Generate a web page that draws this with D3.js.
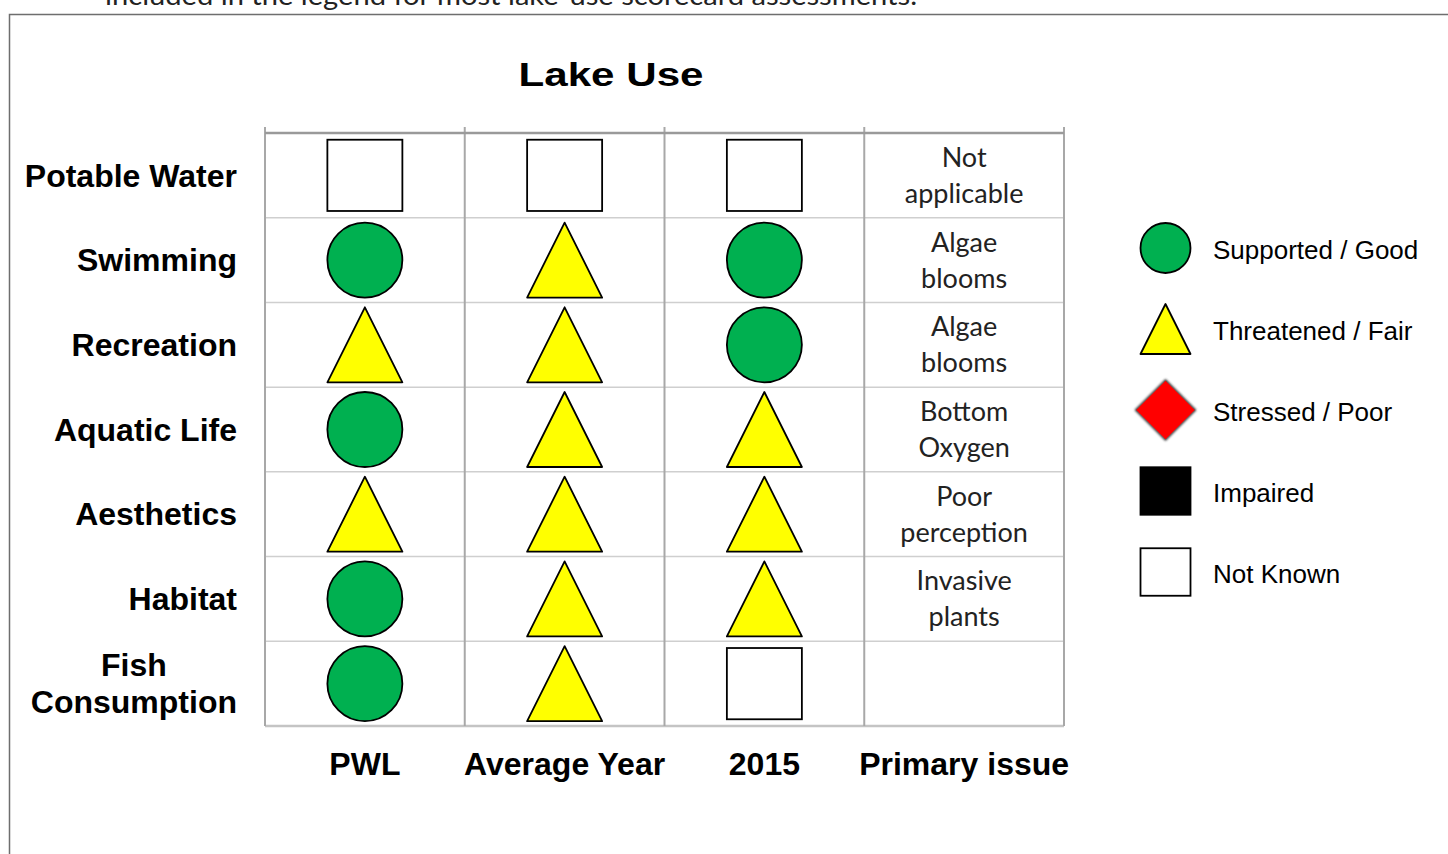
<!DOCTYPE html>
<html>
<head>
<meta charset="utf-8">
<script src="https://cdn.jsdelivr.net/npm/d3@7"></script>
<style>
  body { margin: 0; background: #fff; }
  svg { display: block; }
</style>
</head>
<body>
<svg id="chart"></svg>
<script>
// data begin ----------------------------------
const useNames = ['Potable Water', 'Swimming', 'Recreation', 'Aquatic Life', 'Aesthetics', 'Habitat', 'Fish Consumption'];
const columnNames = ['PWL', 'Average Year', '2015', 'Primary issue'];
const pwlStatus = ['unknown', 'good', 'fair', 'good', 'fair', 'good', 'good'];
const averageYearStatus = ['unknown', 'fair', 'fair', 'fair', 'fair', 'fair', 'fair'];
const year2015Status = ['unknown', 'good', 'good', 'fair', 'fair', 'fair', 'unknown'];
const primaryIssues = ['Not applicable', 'Algae blooms', 'Algae blooms', 'Bottom Oxygen', 'Poor perception', 'Invasive plants', ''];
const legendKeys = ['good', 'fair', 'poor', 'impaired', 'unknown'];
const legendLabels = ['Supported / Good', 'Threatened / Fair', 'Stressed / Poor', 'Impaired', 'Not Known'];
// data end ------------------------------------

const W = 1448, H = 854;
const svg = d3.select('#chart').attr('width', W).attr('height', H);

const defs = svg.append('defs');
defs.append('filter').attr('id', 'blur').attr('x', '-20%').attr('y', '-20%').attr('width', '140%').attr('height', '140%')
  .append('feGaussianBlur').attr('stdDeviation', 0.8);

// page fragment above the chart (cut off by the page edge)
svg.append('text').attr('x', 105).attr('y', 5)
  .attr('textLength', 812).attr('lengthAdjust', 'spacingAndGlyphs')
  .style('font-family', 'Lato, sans-serif').style('font-size', '26px').style('fill', '#222')
  .text('included in the legend for most lake-use scorecard assessments.');

// outer frame
svg.append('path').attr('d', 'M9.5,' + H + 'V14.5H' + W)
  .attr('fill', 'none').attr('stroke', '#6e6e6e').attr('stroke-width', 1.5);

const labelFont = 'Liberation Sans, Arial, sans-serif';

svg.append('text').attr('x', 611).attr('y', 74).attr('dy', '.35em')
  .attr('textLength', 185).attr('lengthAdjust', 'spacingAndGlyphs')
  .style('text-anchor', 'middle').style('font-family', labelFont)
  .style('font-weight', 'bold').style('font-size', '33px').text('Lake Use');

const x = d3.scaleBand().domain(columnNames).range([265, 1064]);
const y = d3.scaleBand().domain(useNames).range([133, 726]);

const colors = { good: '#00b050', fair: '#ffff00', poor: '#ff0000', impaired: '#000000', unknown: '#ffffff' };

function drawSymbol(g, kind, cx, cy, s) {
  const h = s / 2;
  if (kind === 'good') {
    g.append('circle').attr('cx', cx).attr('cy', cy).attr('r', h)
      .attr('fill', colors.good).attr('stroke', '#000').attr('stroke-width', 1.8);
  } else if (kind === 'fair') {
    g.append('path').attr('d', 'M' + (cx - h) + ',' + (cy + h) + 'L' + cx + ',' + (cy - h) + 'L' + (cx + h) + ',' + (cy + h) + 'Z')
      .attr('fill', colors.fair).attr('stroke', '#000').attr('stroke-width', 1.8).attr('stroke-linejoin', 'round');
  } else if (kind === 'poor') {
    const d = h * 1.17;
    const p = 'M' + cx + ',' + (cy - d) + 'L' + (cx + d) + ',' + cy + 'L' + cx + ',' + (cy + d) + 'L' + (cx - d) + ',' + cy + 'Z';
    g.append('path').attr('d', p).attr('fill', 'none').attr('stroke', '#333').attr('stroke-width', 2.5).attr('filter', 'url(#blur)');
    g.append('path').attr('d', p).attr('fill', colors.poor);
  } else {
    g.append('rect').attr('x', cx - h).attr('y', cy - h * 0.95).attr('width', s).attr('height', s * 0.95)
      .attr('fill', colors[kind]).attr('stroke', '#000').attr('stroke-width', 1.8);
  }
}

// grid
const grid = svg.append('g').attr('class', 'grid');
y.domain().slice(1).forEach(function(r) {
  grid.append('line').attr('x1', 265).attr('x2', 1064).attr('y1', y(r)).attr('y2', y(r))
    .attr('stroke', '#cfcfcf').attr('stroke-width', 1.5);
});
grid.append('line').attr('x1', 265).attr('x2', 1064).attr('y1', 726).attr('y2', 726)
  .attr('stroke', '#c4c4c4').attr('stroke-width', 2.5);
columnNames.concat(['end']).forEach(function(c, i) {
  const xv = i < columnNames.length ? x(c) : x.range()[1];
  grid.append('line').attr('x1', xv).attr('x2', xv).attr('y1', 127).attr('y2', 726)
    .attr('stroke', '#a8a8a8').attr('stroke-width', 2);
});
grid.append('line').attr('x1', 265).attr('x2', 1064).attr('y1', 133).attr('y2', 133)
  .attr('stroke', '#9a9a9a').attr('stroke-width', 2.5);

// symbols
const statusCols = [pwlStatus, averageYearStatus, year2015Status];
const cells = svg.append('g').attr('class', 'cells');
statusCols.forEach(function(col, ci) {
  col.forEach(function(kind, ri) {
    const cx = x(columnNames[ci]) + x.bandwidth() / 2;
    const cy = y(useNames[ri]) + y.bandwidth() / 2;
    drawSymbol(cells, kind, cx, cy, 75);
  });
});

// primary issue text
primaryIssues.forEach(function(txt, ri) {
  if (!txt) return;
  const words = txt.split(' ');
  const cx = x('Primary issue') + x.bandwidth() / 2;
  const cy = y(useNames[ri]) + y.bandwidth() / 2;
  const t = svg.append('text').style('text-anchor', 'middle')
    .style('font-family', 'Lato, sans-serif').style('font-size', '27px').style('fill', '#222');
  words.forEach(function(w, k) {
    t.append('tspan').attr('x', cx).attr('y', cy + (k - (words.length - 1) / 2) * 36).attr('dy', '.35em').text(w);
  });
});

// row labels
useNames.forEach(function(name) {
  const cy = y(name) + y.bandwidth() / 2;
  const lines = name === 'Fish Consumption' ? ['Fish', 'Consumption'] : [name];
  const t = svg.append('text').style('font-family', labelFont).style('font-weight', 'bold').style('font-size', '32px');
  lines.forEach(function(l, k) {
    t.append('tspan').attr('x', 237).attr('y', cy + (k - (lines.length - 1) / 2) * 37).attr('dy', '.35em').text(l);
  });
  if (lines.length > 1) {
    const widest = d3.max(t.selectAll('tspan').nodes(), function(n) { return n.getComputedTextLength(); });
    t.style('text-anchor', 'middle').selectAll('tspan').attr('x', 237 - widest / 2);
  } else {
    t.style('text-anchor', 'end');
  }
});

// column labels
svg.append('g').selectAll('text').data(columnNames).join('text')
  .attr('x', function(d) { return x(d) + x.bandwidth() / 2; }).attr('y', 764).attr('dy', '.35em')
  .style('text-anchor', 'middle').style('font-family', labelFont).style('font-weight', 'bold').style('font-size', '32px')
  .text(function(d) { return d; });

// legend
const ly = d3.scalePoint().domain(legendKeys).range([248, 572]);
const legend = svg.append('g').attr('class', 'legend');
legendKeys.forEach(function(k, i) {
  drawSymbol(legend, k, 1165.5, ly(k), 50);
  legend.append('text').attr('x', 1213).attr('y', ly(k) + 2).attr('dy', '.35em')
    .style('font-family', labelFont).style('font-size', '26px').text(legendLabels[i]);
});
</script>
</body>
</html>
